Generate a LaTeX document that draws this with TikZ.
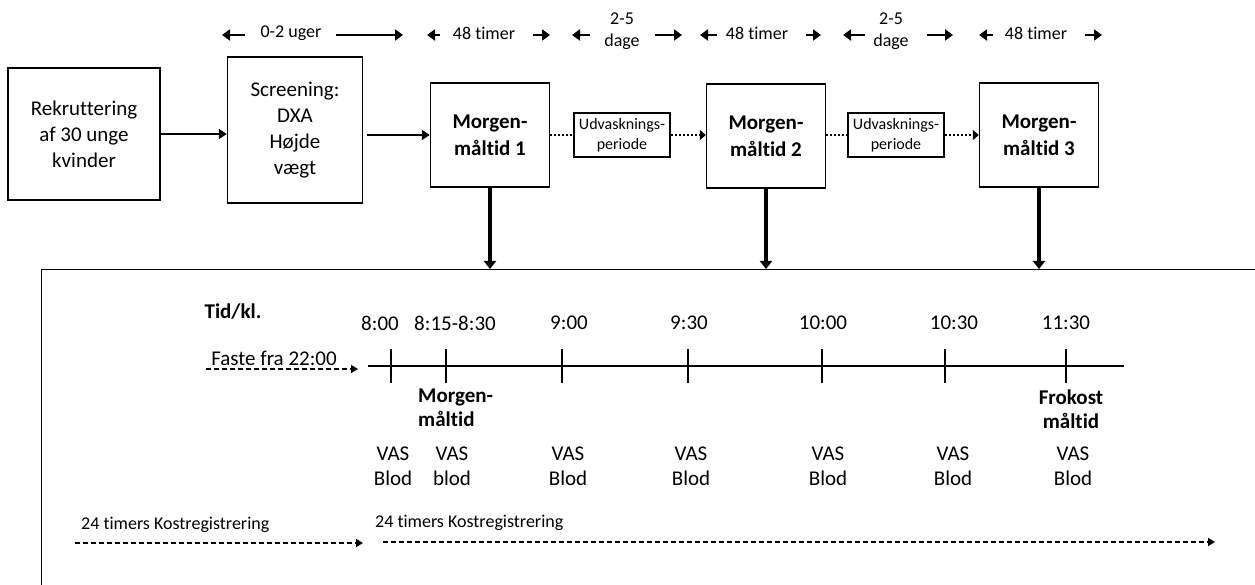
\documentclass[tikz,border=0pt]{standalone}
\usepackage{fontspec}
\setmainfont{Carlito}[Ligatures=NoCommon]
\usepackage{tikz}
\usetikzlibrary{arrows.meta, positioning}

\tikzset{
  flowbox/.style={draw,line width=1.4pt,align=center,inner sep=0pt,font=\fontsize{21}{26}\selectfont},
  washbox/.style={draw,line width=1.4pt,align=center,inner sep=0pt,minimum width=96pt,minimum height=44pt,font=\fontsize{16}{20}\selectfont},
  toplbl/.style={align=center,inner sep=0pt,font=\fontsize{18}{22}\selectfont},
  lbl/.style={inner sep=0pt,font=\fontsize{21}{25}\selectfont},
  solidarr/.style={line width=2.4pt,-{Triangle[length=8pt,width=10pt]}},
  dotarr/.style={line width=2.4pt,dash pattern=on 2pt off 2pt},
  dasharr/.style={line width=2pt,dash pattern=on 5pt off 3pt,-{Triangle[length=7pt,width=8pt]}},
  toparr/.style={line width=2.8pt,-{Triangle[length=8pt,width=11pt]}}
}

\begin{document}
\begin{tikzpicture}[x=1pt,y=-1pt]
\useasboundingbox (0,0) rectangle (1255,585);

% forløb
\begin{scope}[every node/.style={flowbox}]
\node[minimum width=152pt,minimum height=132pt] (rekr) at (84,134) {Rekruttering\\af 30 unge\\kvinder};
\node[minimum width=135pt,minimum height=146pt] (screen) at (295,130) {Screening:\\DXA\\Højde\\vægt};
\node[minimum width=119pt,minimum height=104pt,font=\fontsize{21}{27}\selectfont\bfseries] (mm1) at (490,135) {Morgen-\\måltid 1};
\node[minimum width=119pt,minimum height=104pt,font=\fontsize{21}{27}\selectfont\bfseries] (mm2) at (766,136) {Morgen-\\måltid 2};
\node[minimum width=119pt,minimum height=104pt,font=\fontsize{21}{27}\selectfont\bfseries] (mm3) at (1039,135) {Morgen-\\måltid 3};
\end{scope}
\node[washbox] (udv1) at (622,135) {Udvasknings-\\periode};
\node[washbox] (udv2) at (896,135) {Udvasknings-\\periode};

\draw[solidarr] (rekr.east) -- (rekr.east -| screen.west);
\draw[solidarr] ([xshift=4pt]screen.east |- mm1.west) -- (mm1.west);
\draw[dotarr] (mm1.east |- udv1.west) -- (udv1.west);
\draw[dotarr,-{Triangle[length=6pt,width=10pt]}] (udv1.east) -- (udv1.east -| mm2.west);
\draw[dotarr] (mm2.east |- udv2.west) -- (udv2.west);
\draw[dotarr,-{Triangle[length=6pt,width=10pt]}] (udv2.east) -- (udv2.east -| mm3.west);

% tidsangivelser
\node[toplbl] (uger) at (291,33) {0-2 uger};
\node[toplbl] (timer1) at (484,33) {48 timer};
\node[toplbl] (dage1) at (622,31) {2-5\\dage};
\node[toplbl] (timer2) at (757,33) {48 timer};
\node[toplbl] (dage2) at (891,31) {2-5\\dage};
\node[toplbl] (timer3) at (1036,33) {48 timer};
\foreach \s/\e [count=\i] in {245/222,336/403,440/427,533/550,590/572,655/682,
                               717/700,806/821,865/843,927/953,993/979,1085/1102}{
  \coordinate (ta\i) at (\s,35);
  \coordinate (tb\i) at (\e,35);
  \draw[toparr] (ta\i) -- (tb\i);
}

% forsøgsdag
\node[draw,line width=1.4pt,anchor=north west,minimum width=1260pt,minimum height=340pt] (frame) at (41,269) {};
\foreach \m in {mm1,mm2,mm3}
  \draw[line width=3.2pt,-{Triangle[length=8pt,width=12pt]}] (\m.south) -- (\m.south |- frame.north);

\node[lbl,font=\fontsize{21}{25}\selectfont\bfseries] (tid) at (233,312) {Tid/kl.};
\node[lbl] (faste) at (274,358) {Faste fra 22:00};
\coordinate (fa) at (206,369);
\coordinate (fb) at (358,369);
\draw[dasharr] (fa) -- (fb);

\coordinate (tl0) at (368,366);
\coordinate (tl1) at (1124,366);
\draw[line width=2.2pt] (tl0) -- (tl1);
\foreach \x in {391,446,562,688,822,945,1066}
  \draw[line width=2pt] (\x,349) -- (\x,383);

\foreach \x/\t [count=\i] in {380/8:00,455/8:15-8:30,569/9:00,689/9:30,823/10:00,954/10:30,1066/11:30}
  \node[lbl] (kl\i) at (\x,323) {\t};

\node[lbl,anchor=west,align=left,font=\fontsize{21}{24}\selectfont\bfseries] (morgen) at (418,408) {Morgen-\\måltid};
\node[lbl,align=center,font=\fontsize{21}{24}\selectfont\bfseries] (frokost) at (1071,409) {Frokost\\måltid};

\foreach \x/\b [count=\i] in {393/Blod,452/blod,568/Blod,691/Blod,828/Blod,953/Blod,1073/Blod}
  \node[lbl,align=center] (vas\i) at (\x,466) {VAS\\\b};

\node[lbl,anchor=west,font=\fontsize{18}{22}\selectfont] (kost1) at (81,525) {24 timers Kostregistrering};
\node[lbl,anchor=west,font=\fontsize{18}{22}\selectfont] (kost2) at (375,523) {24 timers Kostregistrering};
\coordinate (ka) at (75,543);
\coordinate (kb) at (363,543);
\coordinate (kc) at (383,542);
\coordinate (kd) at (1215,542);
\draw[dasharr] (ka) -- (kb);
\draw[dasharr] (kc) -- (kd);
\end{tikzpicture}
\end{document}
